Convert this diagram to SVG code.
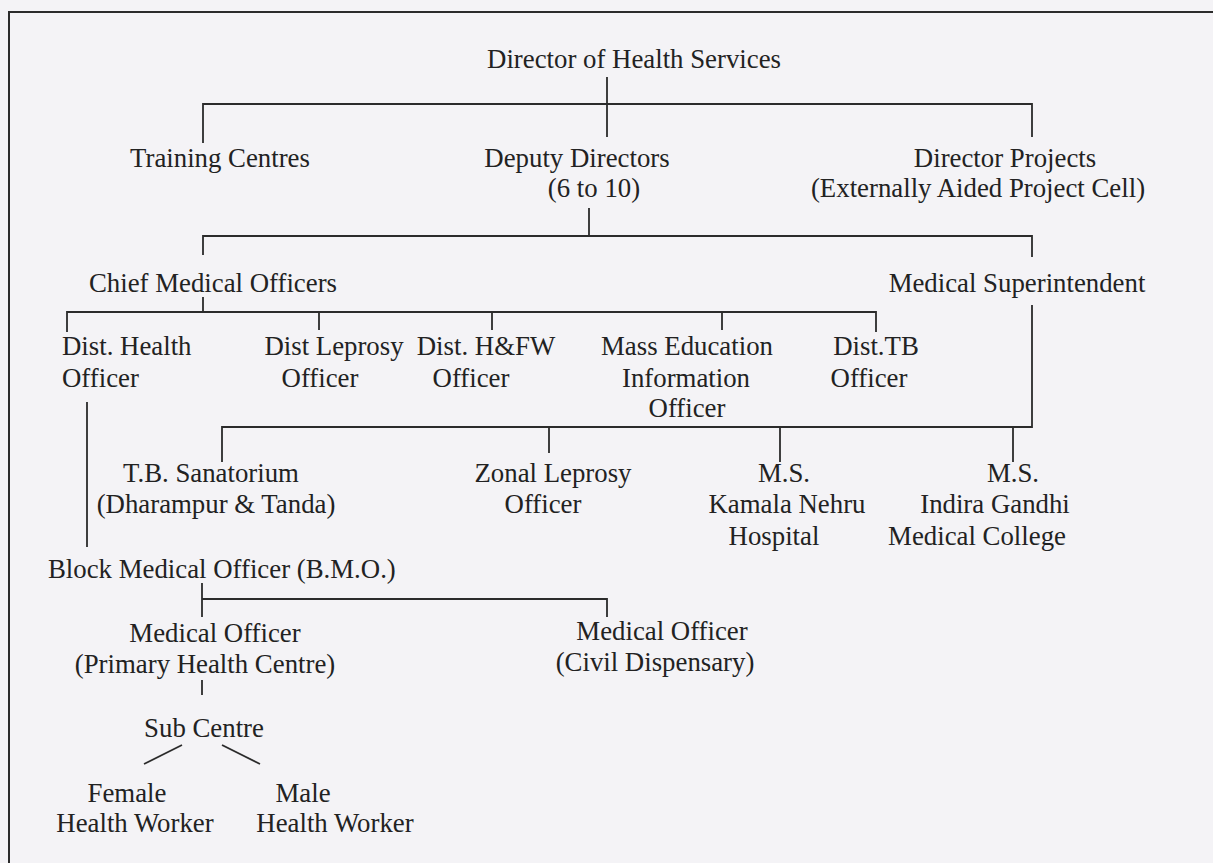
<svg xmlns="http://www.w3.org/2000/svg" width="1213" height="863" viewBox="0 0 1213 863">
<style>
text{font-family:"Liberation Serif","Times New Roman",serif;font-size:26.8px;fill:#222;text-anchor:middle}
.l{text-anchor:start}
.c line,.c polyline{stroke:#2b2b2b;stroke-width:1.8;fill:none}
</style>
<rect x="0" y="0" width="1213" height="863" fill="#f4f3f6"/>
<polyline points="9,863 9,12 1213,12" fill="none" stroke="#2b2b2b" stroke-width="2"/>
<g class="c" id="connectors">
<line x1="607" y1="77" x2="607" y2="137"/>
<polyline points="203,143 203,104 1032,104 1032,137"/>
<line x1="589" y1="208" x2="589" y2="236"/>
<polyline points="203,255 203,236 1032,236 1032,257"/>
<line x1="203" y1="297" x2="203" y2="312"/>
<polyline points="67,332 67,312 876,312 876,332"/>
<line x1="319" y1="312" x2="319" y2="330"/>
<line x1="492" y1="312" x2="492" y2="330"/>
<line x1="722" y1="312" x2="722" y2="330"/>
<polyline points="1032,305 1032,427 222,427 222,462"/>
<line x1="549" y1="427" x2="549" y2="453"/>
<line x1="780" y1="427" x2="780" y2="462"/>
<line x1="1013" y1="427" x2="1013" y2="462"/>
<line x1="87" y1="402" x2="87" y2="547"/>
<line x1="202" y1="583" x2="202" y2="617"/>
<polyline points="202,599 607,599 607,617"/>
<line x1="202" y1="680" x2="202" y2="695"/>
<line x1="182" y1="745" x2="144" y2="764"/>
<line x1="222" y1="745" x2="260" y2="764"/>
</g>
<g id="director"><text x="634" y="68">Director of Health Services</text></g>
<g id="training"><text x="220" y="167">Training Centres</text></g>
<g id="deputy"><text x="577" y="167">Deputy Directors</text><text x="594" y="197">(6 to 10)</text></g>
<g id="projects"><text x="1005" y="167">Director Projects</text><text x="978" y="197">(Externally Aided Project Cell)</text></g>
<g id="cmo"><text x="213" y="292">Chief Medical Officers</text></g>
<g id="ms"><text x="1017" y="292">Medical Superintendent</text></g>
<g id="dho"><text class="l" x="62" y="355">Dist. Health</text><text class="l" x="62" y="387">Officer</text></g>
<g id="dlo"><text x="334" y="355">Dist Leprosy</text><text x="320" y="387">Officer</text></g>
<g id="dhfw"><text x="486" y="355">Dist. H&amp;FW</text><text x="471" y="387">Officer</text></g>
<g id="meio"><text x="687" y="355">Mass Education</text><text x="686" y="387">Information</text><text x="687" y="417">Officer</text></g>
<g id="dtb"><text x="876" y="355">Dist.TB</text><text x="869" y="387">Officer</text></g>
<g id="tbs"><text x="211" y="482">T.B. Sanatorium</text><text x="216" y="513">(Dharampur &amp; Tanda)</text></g>
<g id="zlo"><text x="553" y="482">Zonal Leprosy</text><text x="543" y="513">Officer</text></g>
<g id="knh"><text x="784" y="482">M.S.</text><text x="787" y="513">Kamala Nehru</text><text x="774" y="545">Hospital</text></g>
<g id="igmc"><text x="1013" y="482">M.S.</text><text x="995" y="513">Indira Gandhi</text><text x="977" y="545">Medical College</text></g>
<g id="bmo"><text class="l" x="48" y="578">Block Medical Officer (B.M.O.)</text></g>
<g id="mophc"><text x="215" y="642">Medical Officer</text><text x="205" y="673">(Primary Health Centre)</text></g>
<g id="mocd"><text x="662" y="640">Medical Officer</text><text x="655" y="671">(Civil Dispensary)</text></g>
<g id="sub"><text x="204" y="737">Sub Centre</text></g>
<g id="fhw"><text x="127" y="802">Female</text><text x="135" y="832">Health Worker</text></g>
<g id="mhw"><text x="303" y="802">Male</text><text x="335" y="832">Health Worker</text></g>
</svg>
